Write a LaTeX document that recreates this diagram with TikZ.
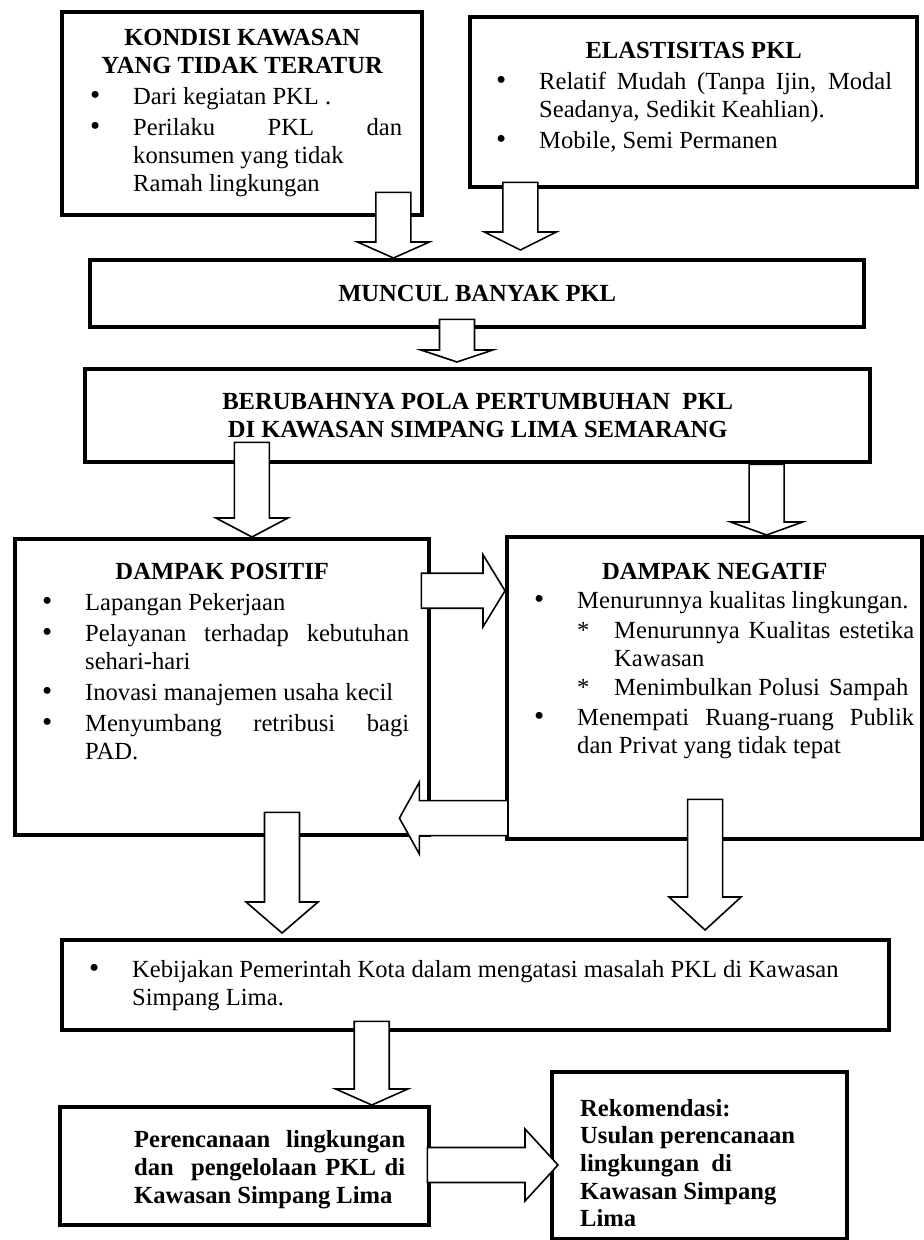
\documentclass[tikz,border=0pt]{standalone}
\usepackage{fontspec}
\setmainfont{Liberation Serif}
\usepackage{tikz}
\usetikzlibrary{calc, positioning, arrows.meta}

\hfuzz=3pt
\newcommand{\pads}[2]{\leftskip=#1\rightskip=#2\parindent=0pt\parskip=1.5pt\hyphenpenalty=10000\relax}
\newcommand{\ctrline}[1]{\par{\leftskip=0pt plus 1fil\rightskip=0pt plus 1fil\parfillskip=0pt\noindent#1\par}}
\newcommand{\brk}{\unskip\break}
\newcommand{\dotmark}{{\fontsize{14.5pt}{14pt}\selectfont\textbullet}}
\newcommand{\bulitm}[1]{\par\hangindent=21.5pt\hangafter=1\noindent\makebox[21.5pt][l]{\dotmark}#1\par}
\newcommand{\subitm}[1]{\par\hangindent=40pt\hangafter=1\noindent\hspace*{21.5pt}\makebox[18.5pt][l]{*}#1\par}

% block arrow: [head length]{from}{to}
\newcommand{\fatarrow}[3][8pt]{%
  \coordinate (fa-a) at (#2);
  \coordinate (fa-b) at (#3);
  \coordinate (fa-h) at ($(fa-b)!#1!(fa-a)$);
  \filldraw[fat arrow] ($(fa-a)!8.75pt!-90:(fa-b)$) -- ($(fa-h)!8.75pt!-90:(fa-b)$)
    -- ($(fa-h)!18pt!-90:(fa-b)$) -- (fa-b) -- ($(fa-h)!18pt!90:(fa-b)$)
    -- ($(fa-h)!8.75pt!90:(fa-b)$) -- ($(fa-a)!8.75pt!90:(fa-b)$) -- cycle;
}

\begin{document}
\begin{tikzpicture}[x=0.5pt, y=-0.5pt,
    panel/.style={draw, line width=2.2pt, inner sep=0pt, anchor=north west,
      font=\fontsize{12.3pt}{14pt}\selectfont},
    fat arrow/.style={draw, fill=white, line width=0.8pt}]
    \useasboundingbox (0,0) rectangle (924,1240);

    \node[panel] (kondisi) at (60,10) {\parbox[c][101.5pt][t]{180pt}{\pads{14pt}{10pt}\vspace*{7pt}%
        \ctrline{\textbf{KONDISI KAWASAN}\brk\textbf{YANG TIDAK TERATUR}}
        \bulitm{Dari kegiatan PKL .}
        \bulitm{Perilaku PKL dan\linebreak konsumen yang tidak\newline Ramah lingkungan}}};
    \node[panel] (elastisitas) at (468,15) {\parbox[c][85pt][t]{223.5pt}{\pads{13pt}{12.5pt}\vspace*{11pt}%
        \ctrline{\textbf{ELASTISITAS PKL}}
        \bulitm{Relatif Mudah (Tanpa Ijin, Modal\linebreak Seadanya, Sedikit Keahlian).}
        \bulitm{Mobile, Semi Permanen}}};
    \node[panel] (muncul) at (88,258) {\parbox[c][33.5pt][c]{387pt}{\pads{0pt}{0pt}%
        \ctrline{\textbf{MUNCUL BANYAK PKL}}}};
    \node[panel] (berubah) at (83,367) {\parbox[c][46.5pt][c]{392.5pt}{\pads{0pt}{0pt}%
        \ctrline{\textbf{BERUBAHNYA POLA PERTUMBUHAN\ \ PKL}\brk\textbf{DI KAWASAN SIMPANG LIMA SEMARANG}}}};
    \node[panel] (positif) at (13,537) {\parbox[c][148pt][t]{207pt}{\pads{13.5pt}{10pt}\vspace*{10.5pt}%
        \ctrline{\textbf{DAMPAK POSITIF}}
        \bulitm{Lapangan Pekerjaan}
        \bulitm{Pelayanan terhadap kebutuhan\linebreak sehari-hari}
        \bulitm{Inovasi manajemen usaha kecil}
        \bulitm{Menyumbang retribusi bagi\linebreak PAD.}}};
    \node[panel] (negatif) at (505,535) {\parbox[c][151pt][t]{207.5pt}{\pads{13.5pt}{4pt}\parskip=0.8pt\vspace*{12pt}%
        \ctrline{\textbf{DAMPAK NEGATIF}}
        \bulitm{Menurunnya kualitas lingkungan.}
        \subitm{Menurunnya Kualitas estetika\linebreak Kawasan}
        \subitm{Menimbulkan Polusi\hspace{1.5pt} Sampah}
        \bulitm{Menempati Ruang-ruang Publik\linebreak dan Privat yang tidak tepat}}};
    \node[panel] (kebijakan) at (60,938) {\parbox[c][45pt][c]{413.5pt}{\pads{13.5pt}{13.5pt}%
        \bulitm{Kebijakan Pemerintah Kota dalam mengatasi masalah PKL di Kawasan\newline Simpang Lima.}}};
    \node[panel] (perencanaan) at (58,1105) {\parbox[c][59pt][t]{184.5pt}{\pads{37pt}{12pt}\bfseries\vspace*{10pt}%
        Perencanaan lingkungan\linebreak dan\ \ pengelolaan PKL di\linebreak Kawasan Simpang Lima\par}};
    \node[panel] (rekomendasi) at (550,1070) {\parbox[c][83.5pt][t]{147.5pt}{\pads{14pt}{14pt}\bfseries
        \baselineskip=13.8pt\vspace*{12pt}%
        Rekomendasi:\newline Usulan perencanaan\newline lingkungan\ \ di\newline Kawasan Simpang\newline Lima\par}};

    % arrows
    \fatarrow[8pt]{$(kondisi.south west)!0.915!(kondisi.south east)+(0,-25)$}{fa-a |- muncul.north}
    \fatarrow[9pt]{$(elastisitas.south west)!0.116!(elastisitas.south east)+(0,-7)$}{$(fa-a |- muncul.north)+(0,-8)$}
    \fatarrow[6pt]{$(muncul.south west)!0.474!(muncul.south east)+(0,-10)$}{$(fa-a |- berubah.north)+(0,-5)$}
    \fatarrow[9.5pt]{$(berubah.south west)!0.214!(berubah.south east)+(0,-22)$}{fa-a |- positif.north}
    \fatarrow[6.5pt]{$(berubah.south west)!0.866!(berubah.south east)$}{fa-a |- negatif.north}
    \fatarrow[11pt]{$(positif.north east)!0.179!(positif.south east)+(-10,0)$}{fa-a -| negatif.west}
    \fatarrow[10pt]{$(negatif.north west)!0.924!(negatif.south west)+(3,0)$}{$(fa-a -| positif.east)+(-32,0)$}
    \fatarrow[15.5pt]{$(positif.south west)!0.643!(positif.south east)+(0,-25)$}{$(fa-a |- kebijakan.north)+(0,-5)$}
    \fatarrow[16.5pt]{$(negatif.south west)!0.477!(negatif.south east)+(0,-42)$}{$(fa-a |- kebijakan.north)+(0,-8)$}
    \fatarrow[8pt]{$(kebijakan.south west)!0.375!(kebijakan.south east)+(0,-11)$}{fa-a |- perencanaan.north}
    \fatarrow[16.5pt]{$(perencanaan.north east)!0.49!(perencanaan.south east)+(-4,0)$}{$(fa-a -| rekomendasi.west)+(8,0)$}
\end{tikzpicture}
\end{document}
